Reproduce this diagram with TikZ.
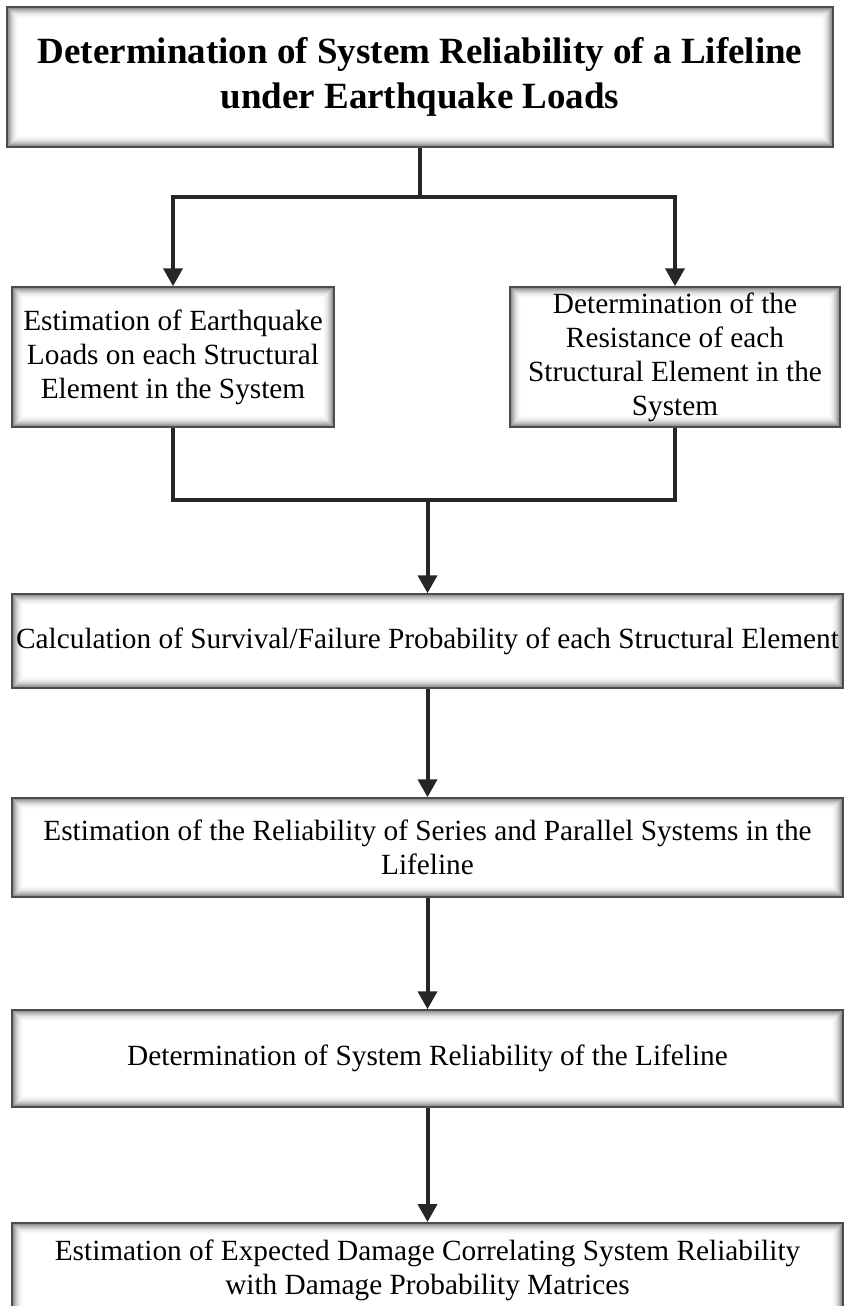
\documentclass[tikz,border=0pt]{standalone}
\usepackage{fontspec}
\setmainfont{Liberation Serif}
\usetikzlibrary{arrows.meta}
\tikzset{
  procbox/.style={draw=black!70, line width=1.5pt, fill=white, align=center, inner sep=0pt,
    font=\fontsize{29.3}{34}\selectfont,
    path picture={\foreach \s/\g in {1.5/42,2.5/34,3.5/27,4.5/21,5.5/16,6.5/11,7.5/8,8.5/5,9.5/3,10.5/1.5}
      \draw[black!\g, line width=1.1pt] ([shift={(\s pt,-\s pt)}]path picture bounding box.north west) rectangle ([shift={(-\s pt,\s pt)}]path picture bounding box.south east);}},
  link/.style={line width=4pt, draw=black!85},
  arr/.style={link, -{Triangle[length=18pt,width=19pt]}}
}
\begin{document}
\begin{tikzpicture}[x=1pt,y=-1pt]
    \useasboundingbox[fill=white] (0,0) rectangle (845,1306);
    \node[procbox, minimum width=826pt, minimum height=140pt, font=\fontsize{37}{45}\selectfont\bfseries] (title) at (420,77)
        {Determination of System Reliability of a Lifeline\\under Earthquake Loads};
    \node[procbox, minimum width=322pt, minimum height=140pt] (load) at (173,357)
        {Estimation of Earthquake\\Loads on each Structural\\Element in the System};
    \node[procbox, minimum width=330pt, minimum height=140pt] (resist) at (675,357)
        {Determination of the\\Resistance of each\\Structural Element in the\\System};
    \node[procbox, minimum width=831pt, minimum height=94pt] (calc) at (427.5,641)
        {Calculation of Survival/Failure Probability of each Structural Element};
    \node[procbox, minimum width=831pt, minimum height=99pt] (series) at (427.5,847.5)
        {Estimation of the Reliability of Series and Parallel Systems in the\\Lifeline};
    \node[procbox, minimum width=831pt, minimum height=97pt] (sysrel) at (427.5,1058.5)
        {Determination of System Reliability of the Lifeline};
    \node[procbox, minimum width=831pt, minimum height=96pt, anchor=north] (damage) at (427.5,1222)
        {Estimation of Expected Damage Correlating System Reliability\\with Damage Probability Matrices};

    \draw[link] (title.south) -- ++(0,49) coordinate (split);
    \draw[arr] (split) -| (load.north);
    \draw[arr] (split) -| (resist.north);
    \draw[link] (load.south) -- ++(0,72) coordinate (join) -- (join -| resist.south) -- (resist.south);
    \draw[arr] (join -| calc.north) -- (calc.north);
    \draw[arr] (calc.south) -- (series.north);
    \draw[arr] (series.south) -- (sysrel.north);
    \draw[arr] (sysrel.south) -- (damage.north);
\end{tikzpicture}
\end{document}
